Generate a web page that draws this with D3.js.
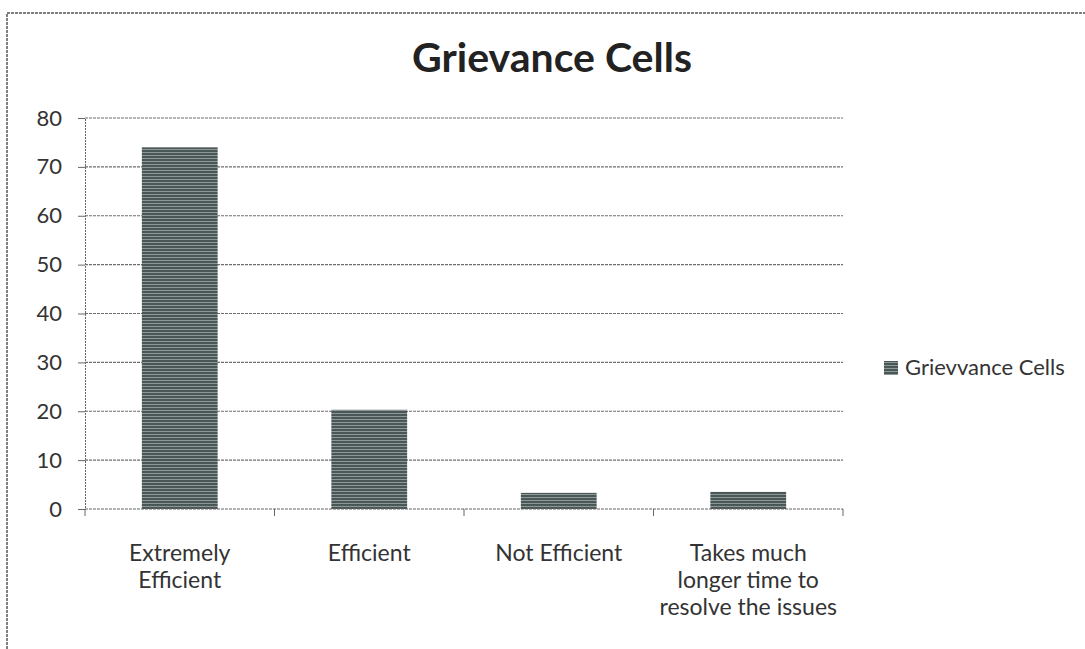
<!DOCTYPE html>
<html>
<head>
<meta charset="utf-8">
<script src="https://cdn.jsdelivr.net/npm/d3@7"></script>
<style>
  body { margin: 0; background: #fff; }
  svg { display: block; font-family: Lato, "Open Sans", sans-serif; }
</style>
</head>
<body>
<div id="chart"></div>
<script>
// Chart data
const categories = [
  ["Extremely", "Efficient"],
  ["Efficient"],
  ["Not Efficient"],
  ["Takes much", "longer time to", "resolve the issues"]
];
const values = [74, 20.3, 3.3, 3.5];
const yTicks = [0, 10, 20, 30, 40, 50, 60, 70, 80];
const title = "Grievance Cells";
const seriesName = "Grievvance Cells";

const width = 1085;
const height = 649;
const margin = { top: 118, right: 242, bottom: 140, left: 85 };

const svg = d3.select("#chart")
  .append("svg")
  .attr("width", width)
  .attr("height", height);

// striped fill like the printed bars
const defs = svg.append("defs");
const pat = defs.append("pattern")
  .attr("id", "stripes")
  .attr("patternUnits", "userSpaceOnUse")
  .attr("width", 6)
  .attr("height", 3);
pat.append("rect").attr("width", 6).attr("height", 3).attr("fill", "#4b5757");
pat.append("rect").attr("y", 2).attr("width", 6).attr("height", 1).attr("fill", "#8d9898");

// outer frame
svg.append("path")
  .attr("d", `M7,${height} L7,13 L${width},13`)
  .attr("fill", "none")
  .attr("stroke", "#555")
  .attr("stroke-width", 1.5)
  .attr("stroke-dasharray", "3,1");

const x = d3.scaleBand()
  .domain(d3.range(categories.length))
  .range([margin.left, width - margin.right])
  .paddingInner(0.6)
  .paddingOuter(0.3);

const y = d3.scaleLinear()
  .domain([0, 80])
  .range([height - margin.bottom, margin.top]);

// title
svg.append("text")
  .attr("x", 552)
  .attr("y", 72)
  .attr("text-anchor", "middle")
  .attr("font-size", 41)
  .attr("font-weight", "bold")
  .attr("fill", "#222")
  .text(title);

// y axis labels
const yAxis = svg.append("g")
  .attr("transform", `translate(${margin.left},0)`)
  .call(d3.axisLeft(y).tickValues(yTicks).tickSize(7).tickPadding(16))
  .call(g => g.select(".domain").attr("stroke", "#666").attr("stroke-dasharray", "2,1"));
yAxis.selectAll(".tick line").attr("stroke", "#666");
yAxis.selectAll(".tick text")
  .attr("font-family", "Lato, 'Open Sans', sans-serif")
  .attr("font-size", 22)
  .attr("fill", "#333");

// gridlines
svg.append("g")
  .selectAll("line")
  .data(yTicks.filter(d => d > 0))
  .join("line")
  .attr("x1", margin.left)
  .attr("x2", width - margin.right)
  .attr("y1", d => y(d))
  .attr("y2", d => y(d))
  .attr("stroke", "#6e6e6e")
  .attr("stroke-width", 1.2)
  .attr("stroke-dasharray", "3,1");

// bars
svg.append("g")
  .selectAll("rect")
  .data(values)
  .join("rect")
  .attr("x", (d, i) => x(i))
  .attr("y", d => y(d))
  .attr("width", x.bandwidth())
  .attr("height", d => y(0) - y(d))
  .attr("fill", "url(#stripes)");

// x axis with tick marks between categories
const xBase = y(0);
const bandW = (width - margin.right - margin.left) / categories.length;
svg.append("line")
  .attr("x1", margin.left)
  .attr("x2", width - margin.right)
  .attr("y1", xBase)
  .attr("y2", xBase)
  .attr("stroke", "#666")
  .attr("stroke-width", 1.2)
  .attr("stroke-dasharray", "3,1");
svg.append("g")
  .selectAll("line")
  .data(d3.range(categories.length + 1))
  .join("line")
  .attr("x1", i => margin.left + i * bandW)
  .attr("x2", i => margin.left + i * bandW)
  .attr("y1", xBase)
  .attr("y2", xBase + 7)
  .attr("stroke", "#666");

// category labels
const labels = svg.append("g")
  .selectAll("text")
  .data(categories)
  .join("text")
  .attr("text-anchor", "middle")
  .attr("font-size", 23)
  .attr("fill", "#333");
labels.selectAll("tspan")
  .data((d, i) => d.map(t => ({ t, i })))
  .join("tspan")
  .attr("x", d => x(d.i) + x.bandwidth() / 2)
  .attr("y", (d, j) => 561 + j * 27)
  .text(d => d.t);

// legend
svg.append("rect")
  .attr("x", 884)
  .attr("y", 361)
  .attr("width", 14)
  .attr("height", 14)
  .attr("fill", "url(#stripes)");
svg.append("text")
  .attr("x", 905)
  .attr("y", 375)
  .attr("font-size", 22)
  .attr("fill", "#333")
  .text(seriesName);
</script>
</body>
</html>
